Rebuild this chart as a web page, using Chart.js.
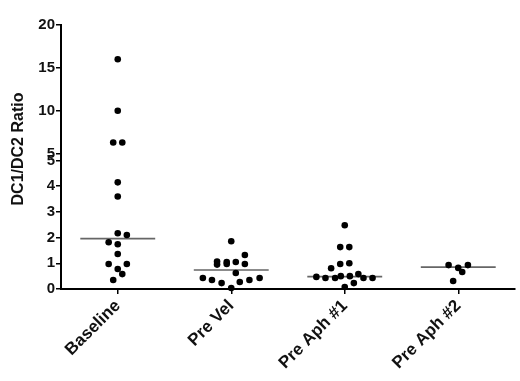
<!DOCTYPE html>
<html>
<head>
<meta charset="utf-8">
<script src="https://cdn.jsdelivr.net/npm/chart.js@4.4.1/dist/chart.umd.min.js"></script>
<style>
html, body { margin: 0; padding: 0; background: #fff; }
#chart-container { width: 520px; height: 381px; }
</style>
</head>
<body>
<div id="chart-container"><canvas id="chart" width="520" height="381"></canvas></div>
<script>
// categories and values
var categories = ['Baseline', 'Pre Vel', 'Pre Aph #1', 'Pre Aph #2'];

var baselineValues = [16, 10, 6.3, 6.3, 4.15, 3.6, 2.17, 2.1, 1.82, 1.74, 1.36, 0.97, 0.97, 0.78, 0.58, 0.35];
var baselineJitter = [0, 0, -0.04, 0.04, 0, 0, 0, 0.08, -0.08, 0, 0, -0.08, 0.08, 0, 0.04, -0.04];

var preVelValues = [1.86, 1.32, 1.07, 0.95, 1.05, 0.97, 1.05, 0.97, 0.62, 0.43, 0.35, 0.23, 0.04, 0.27, 0.35, 0.43];
var preVelJitter = [0, 0.12, -0.125, -0.125, -0.04, -0.04, 0.04, 0.12, 0.04, -0.25, -0.17, -0.085, 0, 0.075, 0.16, 0.25];

var preAph1Values = [2.48, 1.63, 1.63, 0.97, 1.0, 0.81, 0.47, 0.43, 0.43, 0.5, 0.5, 0.58, 0.43, 0.43, 0.23, 0.08];
var preAph1Jitter = [0, -0.04, 0.04, -0.04, 0.04, -0.12, -0.25, -0.17, -0.085, -0.035, 0.045, 0.12, 0.165, 0.245, 0.08, 0];

var preAph2Values = [0.93, 0.93, 0.82, 0.66, 0.31];
var preAph2Jitter = [-0.085, 0.085, 0, 0.035, -0.045];

var medians = [1.96, 0.74, 0.48, 0.85];

var upperTicks = [5, 10, 15, 20];
var lowerTicks = [0, 1, 2, 3, 4, 5];
var breakValue = 5;

var groups = [
	{values: baselineValues, jitter: baselineJitter},
	{values: preVelValues, jitter: preVelJitter},
	{values: preAph1Values, jitter: preAph1Jitter},
	{values: preAph2Values, jitter: preAph2Jitter}
];

var lowerPts = [], upperPts = [];
groups.forEach(function (g, i) {
	g.values.forEach(function (v, j) {
		var p = {x: i + g.jitter[j], y: v};
		if (v > breakValue) upperPts.push(p); else lowerPts.push(p);
	});
});

var medianPts = [];
medians.forEach(function (m, i) {
	medianPts.push({x: i - 0.33, y: m}, {x: i + 0.33, y: m}, {x: i + 0.45, y: null});
});

var FONT = 'Arial, "Liberation Sans", sans-serif';

function axisGrid() {
	return {display: true, drawOnChartArea: false, drawTicks: true, tickLength: 5, color: '#000', lineWidth: 1.5};
}

function yTicks() {
	return {font: {family: FONT, size: 15, weight: 'bold'}, color: '#111', padding: 1, autoSkip: false};
}

// y title spans both halves of the broken axis, so draw it once here
var yTitlePlugin = {
	id: 'yTitle',
	afterDraw: function (chart) {
		var ctx = chart.ctx, area = chart.chartArea;
		ctx.save();
		ctx.translate(19, (area.top + area.bottom) / 2 - 8);
		ctx.rotate(-Math.PI / 2);
		ctx.font = 'bold 16px ' + FONT;
		ctx.fillStyle = '#111';
		ctx.textAlign = 'center';
		ctx.textBaseline = 'middle';
		ctx.fillText('DC1/DC2 Ratio', 0, 0);
		ctx.restore();
	}
};

new Chart(document.getElementById('chart'), {
	type: 'scatter',
	data: {
		datasets: [
			{
				data: upperPts, yAxisID: 'yTop', backgroundColor: '#000', borderWidth: 0,
				pointRadius: 3.3, clip: false
			},
			{
				data: lowerPts, yAxisID: 'yBottom', backgroundColor: '#000', borderWidth: 0,
				pointRadius: 3.3, clip: false
			},
			{
				data: medianPts, yAxisID: 'yBottom', showLine: true, spanGaps: false,
				borderColor: '#666', borderWidth: 1.6, pointRadius: 0
			}
		]
	},
	options: {
		responsive: false,
		animation: false,
		layout: {padding: {top: 25, right: 5, left: 0, bottom: 0}},
		plugins: {legend: {display: false}, tooltip: {enabled: false}},
		scales: {
			// stacked axes: the one listed first ends up at the bottom
			yBottom: {
				type: 'linear', position: 'left', stack: 'y', stackWeight: 129,
				min: 0, max: 5,
				afterBuildTicks: function (s) { s.ticks = lowerTicks.map(function (v) { return {value: v}; }); },
				afterFit: function (s) { s.width = 61; },
				ticks: yTicks(),
				grid: axisGrid(),
				border: {display: true, color: '#000', width: 2}
			},
			yTop: {
				type: 'linear', position: 'left', stack: 'y', stackWeight: 136,
				min: 4.2, max: 20,
				afterBuildTicks: function (s) { s.ticks = upperTicks.map(function (v) { return {value: v}; }); },
				afterFit: function (s) { s.width = 61; },
				ticks: yTicks(),
				grid: axisGrid(),
				border: {display: true, color: '#000', width: 2}
			},
			x: {
				type: 'linear', position: 'bottom', min: -0.5, max: 3.5,
				afterBuildTicks: function (s) { s.ticks = categories.map(function (c, i) { return {value: i}; }); },
				afterFit: function (s) { s.height = 92; },
				ticks: {
					font: {family: FONT, size: 17, weight: 'bold'}, color: '#111',
					minRotation: 45, maxRotation: 45, autoSkip: false, padding: 2,
					callback: function (v) { return categories[v]; }
				},
				grid: axisGrid(),
				border: {display: true, color: '#000', width: 2}
			}
		}
	},
	plugins: [yTitlePlugin]
});
</script>
</body>
</html>
